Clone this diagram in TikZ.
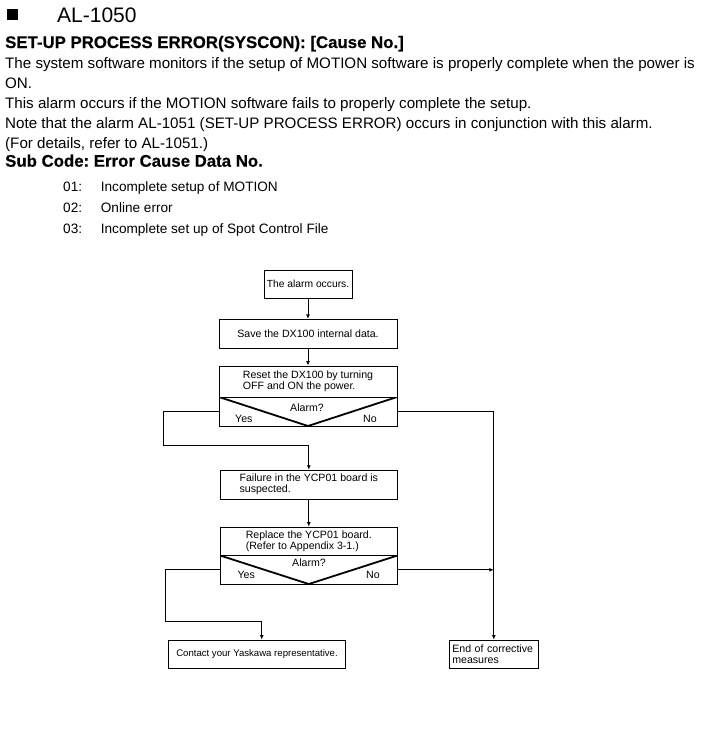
\documentclass[tikz,border=0pt]{standalone}
\usepackage{fontspec}
\setmainfont{Liberation Sans}[BoldFeatures={FakeBold=0.5}]
\usepackage{xcolor}
\usetikzlibrary{arrows.meta}
\frenchspacing

\begin{document}
\begin{tikzpicture}[
    x=1pt, y=-1pt,
    head/.style={anchor=base west, inner sep=0, font=\fontsize{21}{24}\selectfont},
    title/.style={anchor=base west, inner sep=0, font=\bfseries\fontsize{16.8}{20}\selectfont},
    body/.style={anchor=base west, inner sep=0, font=\fontsize{15.15}{20}\selectfont},
    item/.style={anchor=base west, inner sep=0, font=\fontsize{13.6}{16}\selectfont},
    box/.style={draw, line width=0.9pt, align=left, inner sep=0, font=\fontsize{10.6}{11}\selectfont},
    ask/.style={draw, line width=0.9pt, inner sep=0, minimum height=29pt, path picture={\draw[line width=1.8pt] (path picture bounding box.north west) -- (path picture bounding box.south) -- (path picture bounding box.north east);}},
    lbl/.style={anchor=base, inner sep=0, font=\fontsize{10.6}{11}\selectfont},
    flow/.style={-{Latex[length=4.5pt, width=4pt]}, line width=0.9pt}
]
\useasboundingbox (0,0) rectangle (725,731);

\node[fill=black, minimum size=11pt, inner sep=0] (bullet) at (12.5,14.5) {};
\node[head] (code) at (57,22) {AL-1050};
\node[title] (name) at (5,48) {SET-UP PROCESS ERROR(SYSCON): [Cause No.]};
\node[body] (desc1) at (5,68.3) {The system software monitors if the setup of MOTION software is properly complete when the power is};
\node[body] (desc2) at (5,88.3) {ON.};
\node[body] (desc3) at (5,108.3) {This alarm occurs if the MOTION software fails to properly complete the setup.};
\node[body] (desc4) at (5,128.3) {Note that the alarm AL-1051 (SET-UP PROCESS ERROR) occurs in conjunction with this alarm.};
\node[body] (desc5) at (5,148.3) {(For details, refer to AL-1051.)};
\node[title] (sub) at (5,166.7) {Sub Code: Error Cause Data No.};
\node[item] (num1) at (63,191.5) {01:};
\node[item] (cause1) at (100.7,191.5) {Incomplete setup of MOTION};
\node[item] (num2) at (63,212.6) {02:};
\node[item] (cause2) at (100.7,212.6) {Online error};
\node[item] (num3) at (63,233.7) {03:};
\node[item] (cause3) at (100.7,233.7) {Incomplete set up of Spot Control File};

\node[box, minimum width=88pt, minimum height=28pt, font=\fontsize{10.3}{11}\selectfont] (start) at (308,284) {The alarm occurs.};
\node[box, minimum width=178pt, minimum height=29pt] (save) at (308,333.8) {Save the DX100 internal data.};
\node[box, minimum width=178pt, minimum height=31pt, text depth=2pt] (reset) at (308,381.5) {Reset the DX100 by turning\\OFF and ON the power.};
\node[ask, minimum width=178pt] (ask1) at (308,411.5) {};
\node[lbl] (q1) at (307,411.5) {Alarm?};
\node[lbl, anchor=base west] (yes1) at (235,422.5) {Yes};
\node[lbl, anchor=base west] (no1) at (363,422.5) {No};
\node[box, minimum width=177pt, minimum height=29pt] (fail) at (308.8,484.7) {Failure in the YCP01 board is\\suspected.};
\node[box, minimum width=177pt, minimum height=28.5pt] (replace) at (308.8,541.3) {Replace the YCP01 board.\\(Refer to Appendix 3-1.)};
\node[ask, minimum width=177pt, minimum height=28.5pt] (ask2) at (308.8,569.8) {};
\node[lbl] (q2) at (309,566.7) {Alarm?};
\node[lbl, anchor=base west] (yes2) at (237.3,578.3) {Yes};
\node[lbl, anchor=base west] (no2) at (366,578.3) {No};
\node[box, minimum width=177.4pt, minimum height=28.3pt, font=\fontsize{9.6}{11}\selectfont] (contact) at (257,654.2) {Contact your Yaskawa representative.};
\node[box, minimum height=28.3pt, text width=83pt, inner xsep=3pt, font=\fontsize{10.6}{11.5}\selectfont] (finish) at (493.8,654.2) {End of corrective\\measures};

\coordinate (bendA) at (163,445);
\coordinate (bendB) at (165.7,621.7);

\draw[flow] (start) -- (save);
\draw[flow] (save) -- (reset);
\draw[flow] (ask1.west) -| (bendA) -| (fail.north);
\draw[flow] (ask1.east) -| (finish.north);
\draw[flow] (fail) -- (replace);
\draw[flow] (ask2.west) -| (bendB) -| ([xshift=4.7pt]contact.north);
\draw[flow] (ask2.east) -- (ask2.east -| finish.north);
\end{tikzpicture}
\end{document}
